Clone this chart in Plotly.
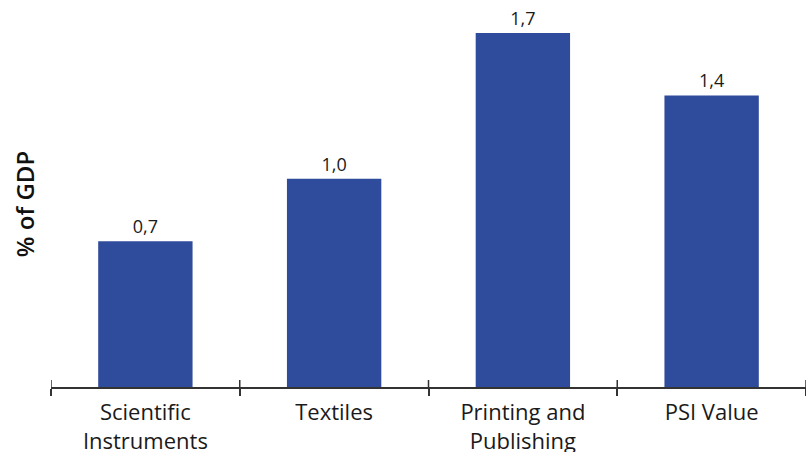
import plotly.graph_objects as go

categories = ["Scientific<br>Instruments", "Textiles", "Printing and<br>Publishing", "PSI Value"]
values = [0.7, 1.0, 1.7, 1.4]
y_title = "% of GDP"

bar_color = "#2F4B9B"
font_family = "Open Sans, Noto Sans, sans-serif"
axis_color = "#333333"

fig = go.Figure()
fig.add_trace(go.Bar(
    x=categories, y=values,
    marker=dict(color=bar_color, line=dict(width=0)),
    texttemplate="%{y:.1f}", textposition="outside",
    textfont=dict(size=18, color="#1a1a1a", family=font_family),
    cliponaxis=False, width=0.5,
))

# upper half of the tick marks at category boundaries (lower half drawn by the axis)
for i in range(len(categories) + 1):
    fig.add_shape(type="line", xref="x", yref="y", x0=i - 0.5, x1=i - 0.5,
                  ysizemode="pixel", yanchor=0, y0=0, y1=7,
                  line=dict(color=axis_color, width=1.5), layer="above")

fig.add_annotation(text=y_title, textangle=-90, showarrow=False,
                   xref="paper", yref="paper", x=0, y=0.485, xshift=-27,
                   xanchor="center", yanchor="middle",
                   font=dict(size=24, color="#111111", family=font_family, weight=600))

fig.update_layout(
    width=806, height=452,
    margin=dict(l=51, r=0, t=10, b=65, autoexpand=False),
    plot_bgcolor="white", paper_bgcolor="white",
    separators=",.",
    showlegend=False,
    font=dict(family=font_family, size=22, color="#1a1a1a"),
    xaxis=dict(
        type="category", showline=True, linecolor=axis_color, linewidth=1.5,
        ticks="outside", tickson="boundaries", ticklen=7, tickwidth=1.5, tickcolor=axis_color,
        ticklabelstandoff=5, automargin=False,
        tickfont=dict(size=22, color="#1a1a1a"), showgrid=False, zeroline=False,
        range=[-0.5, 3.5],
    ),
    yaxis=dict(
        range=[0, 1.81], showticklabels=False, showgrid=False, zeroline=False,
        showline=False, ticks="", automargin=False,
    ),
)

fig.write_html("out.html")
